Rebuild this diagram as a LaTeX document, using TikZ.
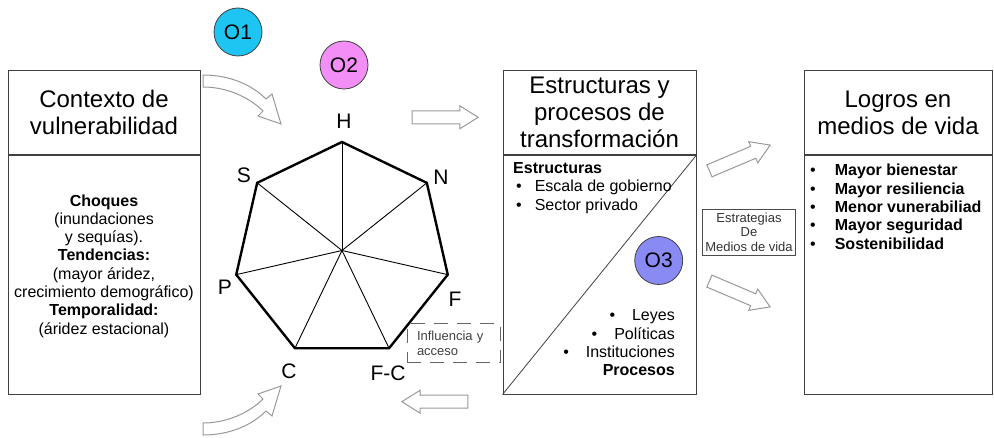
\documentclass[tikz,border=0pt]{standalone}
\usepackage{fontspec}
\setmainfont{Liberation Sans}
\usetikzlibrary{shapes.arrows,calc}

\definecolor{objA}{RGB}{30,196,242}
\definecolor{objB}{RGB}{242,142,245}
\definecolor{objC}{RGB}{138,138,245}

\newcommand\titlesize{\fontsize{24}{27}\selectfont}
\newcommand\bodysize{\fontsize{16}{18.3}\selectfont}
\newcommand\smallsize{\fontsize{13}{14.5}\selectfont}
\newcommand\vertsize{\fontsize{21}{24}\selectfont}
\newcommand\objsize{\fontsize{21}{24}\selectfont}

\begin{document}
\begin{tikzpicture}
  [x=1pt, y=1pt,
  panel/.style={draw=black!75, line width=1pt, inner sep=1pt},
  title/.style={panel, font=\titlesize, align=center},
  obj/.style={circle, draw=black!75, line width=0.8pt, minimum size=48, inner sep=0pt, font=\objsize},
  hollow/.style={draw=black!40, line width=1pt, fill=white},
  flecha/.style={single arrow, hollow, minimum height=66, minimum width=22, inner sep=6pt,
    single arrow head extend=5pt, single arrow tip angle=64},
  vlabel/.style={font=\vertsize},
  edge/.style={line width=2.4pt, line join=miter},
  spoke/.style={line width=0.9pt}]

  \useasboundingbox (0,0) rectangle (994,437);

  % contexto de vulnerabilidad
  \node[title, minimum width=192, minimum height=83.8] (ctxT) at (104,324.4) {Contexto de\\vulnerabilidad};
  \node[panel, minimum width=192, minimum height=238.5, anchor=north] (ctxB) at (ctxT.south) {};
  \node[font=\bodysize, align=center] (ctxTxt) at (104,171) {\textbf{Choques}\\(inundaciones\\y sequías).\\\textbf{Tendencias:}\\(mayor áridez,\\crecimiento demográfico)\\\textbf{Temporalidad:}\\(áridez estacional)};

  % pentagono de capitales (heptagono)
  \coordinate (O) at (342,186.5);
  \foreach \v/\a in {H/90, N/38.57, F/-12.86, FC/-64.29, C/-115.71, P/-167.14, S/141.43}
    \coordinate (\v) at ($(O)+(\a:108.5)$);
  \foreach \v in {H,N,F,FC,C,P,S}
    \draw[spoke] (O) -- (\v);
  \draw[edge] (H) -- (N) -- (F) -- (FC) -- (C) -- (P) -- (S) -- cycle;
  \node[vlabel] (lH) at (344,316) {H};
  \node[vlabel] (lS) at (244,262) {S};
  \node[vlabel] (lN) at (441,260) {N};
  \node[vlabel] (lP) at (225,150) {P};
  \node[vlabel] (lF) at (455,138) {F};
  \node[vlabel] (lC) at (289,66) {C};
  \node[vlabel] (lFC) at (388,64) {F-C};

  % objetivos
  \node[obj, fill=objA] (O1) at (238,405) {O1};
  \node[obj, fill=objB] (O2) at (344,372) {O2};

  % flechas
  \draw[hollow] (203,362) .. controls (230,362) and (252,352) .. (266,338) -- (272,343)
    -- (281,313) -- (258,321) -- (263,326) .. controls (250,339) and (228,350) .. (203,350) -- cycle;
  \draw[hollow] (203,2) .. controls (230,2) and (252,12) .. (266,26) -- (272,21)
    -- (281,51) -- (258,43) -- (263,38) .. controls (250,25) and (228,14) .. (203,14) -- cycle;
  \node[flecha] (aR) at (440,319.7) {};
  \node[flecha, shape border rotate=180] (aL) at (440,35.3) {};
  \node[flecha, rotate=23] (aUp) at (735,277) {};
  \node[flecha, rotate=-23] (aDn) at (735,145) {};

  \node[draw=black!60, dash pattern=on 14pt off 9pt, line width=1pt, minimum width=93, minimum height=38.7,
    text width=73, inner xsep=10pt, align=left, font=\smallsize, text=black!75] (infl) at (453.5,93.7) {Influencia y\\acceso};

  % estructuras y procesos
  \node[title, minimum width=193, minimum height=83.8] (strT) at (599.5,324.4) {Estructuras y\\procesos de\\transformación};
  \node[panel, minimum width=193, minimum height=238.5, anchor=north] (strB) at (strT.south) {};
  \draw[black!75, line width=0.8pt] (strB.south west) -- (strB.north east);
  \node[font=\bodysize, align=left, anchor=west, inner sep=2pt] (strTxt) at (511,249)
    {\textbf{Estructuras}\\\hspace*{3pt}\textbullet\hspace{13pt}Escala de gobierno\\\hspace*{3pt}\textbullet\hspace{13pt}Sector privado};
  \node[font=\bodysize, align=right, anchor=east, inner sep=2pt] (procTxt) at (677,94)
    {\textbullet\hspace{17pt}Leyes\\\textbullet\hspace{17pt}Políticas\\\textbullet\hspace{17pt}Instituciones\\\textbf{Procesos}};
  \node[obj, fill=objC] (O3) at (658.7,176.5) {O3};

  \node[draw=black!70, line width=0.8pt, minimum width=93, minimum height=46, inner sep=1pt,
    align=center, font=\smallsize, text=black!80] (estr) at (749,205) {Estrategias\\De\\Medios de vida};

  % logros
  \node[title, minimum width=188, minimum height=83.8] (logT) at (898,324.4) {Logros en\\medios de vida};
  \node[panel, minimum width=188, minimum height=238.5, anchor=north] (logB) at (logT.south) {};
  \node[font=\bodysize\bfseries, align=left, anchor=west, inner sep=2pt] (logTxt) at (808,230.3)
    {{\mdseries\textbullet}\hspace{19pt}Mayor bienestar\\{\mdseries\textbullet}\hspace{19pt}Mayor resiliencia\\{\mdseries\textbullet}\hspace{19pt}Menor vunerabiliad\\{\mdseries\textbullet}\hspace{19pt}Mayor seguridad\\{\mdseries\textbullet}\hspace{19pt}Sostenibilidad};
\end{tikzpicture}
\end{document}
